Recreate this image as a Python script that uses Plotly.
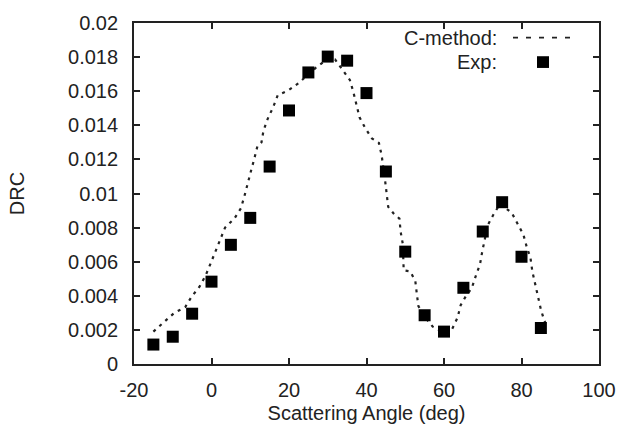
import plotly.graph_objects as go

# Experimental data
exp_angle = [-15, -10, -5, 0, 5, 10, 15, 20, 25, 30, 35, 40, 45, 50, 55, 60, 65, 70, 75, 80, 85]
exp_drc = [0.00114, 0.0016, 0.00295, 0.00483, 0.00699, 0.00857, 0.01158, 0.01487, 0.0171, 0.01803,
           0.01779, 0.01589, 0.01129, 0.00659, 0.00286, 0.0019, 0.00447, 0.00777, 0.00949, 0.00629, 0.00211]

# C-method curve
c_angle = [-15.0, -14.5, -11.9, -9.6, -6.8, -5.1, -3.1, -1.5, -0.3, 0.9, 2.1, 3.5, 5.9, 7.6, 8.5, 9.5,
           10.2, 11.1, 11.9, 12.9, 13.4, 14.5, 15.9, 17.1, 19.9, 22.5, 26.8, 29.4, 31.0, 31.9, 33.6,
           35.7, 36.6, 37.4, 38.2, 39.6, 41.4, 43.2, 43.9, 44.8, 45.2, 45.6, 47.1, 48.5, 48.8, 49.4,
           49.5, 49.6, 51.3, 52.6, 53.0, 53.4, 55.2, 57.1, 59.9, 62.0, 63.5, 64.3, 65.6, 67.2, 68.1,
           69.3, 69.9, 70.6, 71.3, 72.8, 74.5, 77.5, 79.1, 80.5, 81.4, 82.3, 82.8, 83.5, 84.2, 85.0,
           85.9, 86.2]
c_drc = [0.0019, 0.0020, 0.00249, 0.0030, 0.00333, 0.00396, 0.00453, 0.0052, 0.00586, 0.00657, 0.00729,
         0.0080, 0.00853, 0.00914, 0.00985, 0.01063, 0.01133, 0.01209, 0.01282, 0.0130, 0.01367, 0.01438,
         0.01506, 0.01577, 0.01606, 0.01648, 0.01735, 0.0178, 0.0179, 0.01786, 0.01729, 0.01666, 0.01596,
         0.0152, 0.01447, 0.01387, 0.01323, 0.01297, 0.01225, 0.01076, 0.00996, 0.00922, 0.0088, 0.00853,
         0.00777, 0.0070, 0.00615, 0.00549, 0.00543, 0.00486, 0.00409, 0.00339, 0.00272, 0.00219, 0.00186,
         0.0020, 0.00272, 0.00345, 0.00396, 0.00447, 0.0051, 0.00586, 0.00663, 0.00739, 0.00815, 0.00878,
         0.0094, 0.00886, 0.00815, 0.00758, 0.00682, 0.00625, 0.00543, 0.00466, 0.0039, 0.0032, 0.00253,
         0.0024]

x_ticks = [-20, 0, 20, 40, 60, 80, 100]
y_ticks = [0, 0.002, 0.004, 0.006, 0.008, 0.01, 0.012, 0.014, 0.016, 0.018, 0.02]
y_ticktext = ["0", "0.002", "0.004", "0.006", "0.008", "0.01", "0.012", "0.014", "0.016", "0.018", "0.02"]

W, H = 633, 438
ML, MR, MT, MB = 134, 34, 15, 74
FONT = "Liberation Sans, Arial, Helvetica, sans-serif"
FS = 20
TXT = "#222222"

fig = go.Figure()
fig.add_trace(go.Scatter(x=c_angle, y=c_drc, mode="lines", name="C-method:",
                         line=dict(color="#222222", width=2.2, dash="3px,5px"), showlegend=False))
fig.add_trace(go.Scatter(x=exp_angle, y=exp_drc, mode="markers", name="Exp:",
                         marker=dict(symbol="square", size=12, color="black"), showlegend=False))

pw = W - ML - MR
ph = H - MT - MB
def px(x):
    return (x - ML) / pw
def py(y):
    return (H - MB - y) / ph

# legend (gnuplot style: right-aligned text, sample to the right)
fig.add_annotation(x=px(499), y=py(30), xref="paper", yref="paper", text="C-method:",
                   showarrow=False, xanchor="right", yanchor="middle",
                   font=dict(family=FONT, size=FS, color=TXT))
fig.add_annotation(x=px(499), y=py(55), xref="paper", yref="paper", text="Exp:",
                   showarrow=False, xanchor="right", yanchor="middle",
                   font=dict(family=FONT, size=FS, color=TXT))
fig.add_shape(type="line", xref="paper", yref="paper", x0=px(513), x1=px(574), y0=py(30), y1=py(30),
              line=dict(color="#222222", width=1.8, dash="5px,8px"))
fig.add_shape(type="rect", xref="paper", yref="paper", x0=px(537), x1=px(549), y0=py(49), y1=py(61),
              line=dict(width=0), fillcolor="black")

axis_common = dict(showgrid=False, zeroline=False, showline=True, linecolor="#222222", linewidth=1.8,
                   mirror="ticks", ticks="inside", ticklen=6, tickwidth=1.5, tickcolor="#222222",
                   tickfont=dict(family=FONT, size=FS, color=TXT))

fig.update_xaxes(range=[-20, 100], tickvals=x_ticks, ticktext=[str(v) for v in x_ticks],
                 ticklabelstandoff=7,
                 title=dict(text="Scattering Angle (deg)", font=dict(family=FONT, size=FS, color=TXT), standoff=6),
                 **axis_common)
fig.update_yaxes(range=[0, 0.02], tickvals=y_ticks, ticktext=y_ticktext,
                 ticklabelstandoff=10,
                 title=dict(text="DRC", font=dict(family=FONT, size=FS, color=TXT), standoff=38),
                 **axis_common)

fig.update_layout(width=W, height=H, margin=dict(l=ML, r=MR, t=MT, b=MB),
                  paper_bgcolor="white", plot_bgcolor="white", showlegend=False)

fig.write_html("out.html")
